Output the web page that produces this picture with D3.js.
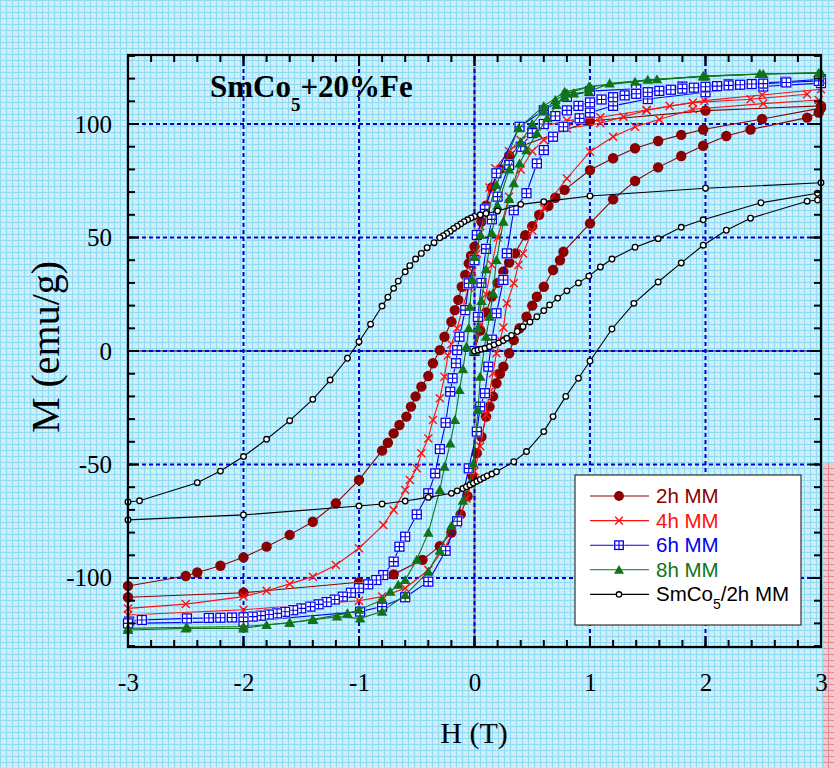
<!DOCTYPE html>
<html><head><meta charset="utf-8">
<script src="https://cdn.jsdelivr.net/npm/d3@7"></script>
<style>html,body{margin:0;padding:0;background:#fff}svg{display:block}</style>
</head><body>
<script>
// ---------- data ----------
const xTickValues = [-3,-2,-1,0,1,2,3];
const yTickValues = [-100,-50,0,50,100];
const legendLabels = ["2h MM","4h MM","6h MM","8h MM","SmCo5/2h MM"];

// SmCo5/2h MM (black)
const blkDesc = [[3,74.1],[2,71.7],[1,68.3],[0.6,65.8],[0.4,64.6],[0.2,61.7],[0.1,60.6],[0.05,60],[0,59.3],[-0.03,58.6],[-0.06,57.8],[-0.09,57],[-0.12,56],[-0.15,55],[-0.18,54],[-0.21,52.8],[-0.24,51.8],[-0.27,50.8],[-0.3,49.9],[-0.35,47.7],[-0.41,45.5],[-0.46,43],[-0.51,40.5],[-0.56,37.6],[-0.6,34.9],[-0.66,30.8],[-0.7,27.6],[-0.75,23.7],[-0.8,19.8],[-0.9,11.8],[-1.0,4.1],[-1.1,-3.2],[-1.25,-12.8],[-1.4,-21.3],[-1.6,-30.7],[-1.8,-38.9],[-2.0,-46.5],[-2.2,-52.9],[-2.4,-58],[-2.9,-66],[-3,-66.5]];
const blkAsc = [[-3,-74.4],[-2,-72.2],[-1,-68.3],[-0.8,-67.4],[-0.6,-66.1],[-0.4,-64.5],[-0.2,-62.7],[-0.15,-61.6],[-0.1,-60.6],[-0.07,-59.8],[-0.04,-59],[-0.01,-58.2],[0.02,-57.4],[0.05,-56.6],[0.08,-55.8],[0.11,-55],[0.15,-54.2],[0.19,-53.2],[0.34,-48.8],[0.45,-44.3],[0.6,-35.5],[0.68,-28.9],[0.79,-20],[0.9,-12],[1.0,-4.4],[1.19,9.7],[1.38,21],[1.59,30.4],[1.79,38.8],[1.98,46.6],[2.18,53.2],[2.39,58.5],[2.88,66],[2.97,66.5]];
const blkVirgin = [[0,0],[0.03,0.4],[0.06,0.8],[0.09,1.2],[0.13,1.9],[0.17,2.7],[0.21,3.6],[0.25,4.6],[0.28,5.6],[0.32,6.9],[0.37,8.6],[0.42,10.7],[0.48,12.8],[0.54,15.1],[0.6,17.8],[0.65,20.3],[0.72,23.3],[0.8,26.5],[0.9,30],[0.99,33],[1.09,37],[1.19,40.5],[1.39,45.7],[1.59,49.5],[1.79,54.5],[1.98,57.8],[2.48,65.3],[2.97,69.5]];

// 2h MM (dark red)
const h2Desc = [[3,108],[2,105.9],[1,101.3],[0.39,90],[0.3,86],[0.22,80],[0.15,72],[0.1,64],[0.06,57],[0.03,51],[0,46],[-0.03,42],[-0.05,38.6],[-0.08,33.5],[-0.11,28.3],[-0.14,22.5],[-0.17,18],[-0.2,12.9],[-0.26,6.3],[-0.3,0.4],[-0.36,-5.4],[-0.4,-11],[-0.46,-15.7],[-0.51,-20],[-0.55,-24.5],[-0.59,-28.9],[-0.65,-32.6],[-0.7,-36.3],[-0.75,-40.4],[-0.8,-43.9],[-1.0,-56.8],[-1.2,-67.1],[-1.4,-75.2],[-1.6,-81],[-1.8,-86.2],[-2,-90.9],[-2.2,-94.6],[-2.4,-97.6],[-2.5,-99.1],[-3,-103.5]];
const h2Asc = [[-3,-108.5],[-2,-106.5],[-1,-101.9],[-0.7,-98.4],[-0.45,-92],[-0.3,-86],[-0.2,-80],[-0.12,-72],[-0.06,-64],[-0.02,-55],[0.02,-45],[0.06,-37.8],[0.1,-28.9],[0.13,-24.5],[0.16,-20],[0.19,-14.2],[0.22,-10],[0.25,-6.9],[0.3,-1],[0.34,4.8],[0.39,10],[0.45,15.1],[0.5,20],[0.54,23.9],[0.6,28.3],[0.68,35.7],[0.74,40],[0.77,43.7],[1,56.2],[1.2,66.8],[1.39,74.9],[1.59,80.9],[1.79,85.9],[1.98,90.4],[2.18,94.7],[2.39,97.6],[2.88,102.8],[2.98,105]];
const h2Virgin = [[0,0],[0.05,9],[0.1,17],[0.15,24],[0.2,30],[0.25,35],[0.3,39],[0.35,43],[0.44,51],[0.5,55],[0.56,60],[0.64,64],[0.7,67.5],[0.78,71],[1,79.7],[1.2,84.9],[1.39,89.3],[1.59,92.5],[1.79,95.2],[1.98,97.6],[2.49,102.2],[3,107]];

// 4h MM (red)
const h4Desc = [[3,115.3],[2.49,112.8],[1.99,110.3],[1.49,106.2],[1.09,103],[0.8,101.5],[0.6,99],[0.4,93],[0.3,88],[0.18,80.5],[0.13,72],[0.09,62.4],[0.05,52],[0.02,43],[-0.02,35],[-0.05,28],[-0.1,19.5],[-0.15,10],[-0.2,3],[-0.23,-2],[-0.26,-11.3],[-0.3,-20.8],[-0.36,-30.4],[-0.4,-38.5],[-0.46,-45],[-0.5,-51.7],[-0.56,-56.8],[-0.6,-61.2],[-0.7,-70],[-0.79,-76.7],[-1,-86.9],[-1.2,-94.3],[-1.4,-99.4],[-1.6,-102.6],[-1.8,-105.6],[-2,-108.2],[-2.5,-111.5],[-3,-113.4]];
const h4Asc = [[-3,-116.3],[-2,-114],[-1,-110],[-0.8,-108.2],[-0.6,-104.5],[-0.4,-96.5],[-0.25,-86],[-0.15,-76],[-0.07,-65],[0,-53],[0.05,-42],[0.1,-28],[0.13,-18],[0.16,-9.8],[0.19,-1],[0.22,4.8],[0.25,10.4],[0.28,21],[0.34,29.8],[0.38,37.9],[0.42,43],[0.5,53],[0.6,63],[0.8,76],[1,87.8],[1.2,94.4],[1.39,98.8],[1.6,102],[1.89,106.5],[2.5,109],[2.98,110.6]];
const h4Virgin = [[0,0],[0.05,12],[0.1,25],[0.15,38],[0.2,50],[0.3,68],[0.4,80],[0.5,88],[0.6,93],[0.8,98],[1.09,100.3],[1.29,103.2],[1.49,106],[1.69,107.9],[1.89,109.4],[2.39,110.9],[2.88,113.1]];

// 6h MM (blue)
const h6Desc = [[3,119.7],[2.69,118.6],[2.2,117.5],[1.8,116.5],[1.4,115.5],[1,114.5],[0.8,112],[0.6,106],[0.39,98.8],[0.19,78.3],[0.09,62.4],[0.02,51.1],[0,40],[-0.05,29.8],[-0.08,18],[-0.13,6.3],[-0.15,0.4],[-0.16,-5.4],[-0.19,-12],[-0.21,-17.9],[-0.25,-31.6],[-0.3,-43.2],[-0.34,-53.9],[-0.4,-62.7],[-0.5,-72],[-0.6,-81.8],[-0.65,-86.2],[-0.7,-92.8],[-0.79,-98.7],[-0.85,-100.9],[-0.92,-102.8],[-1,-104.5],[-1.07,-106.5],[-1.14,-108.2],[-1.21,-109.5],[-1.28,-110.6],[-1.35,-111.6],[-1.42,-112.6],[-1.5,-113.4],[-1.57,-114.2],[-1.64,-114.9],[-1.71,-115.6],[-1.78,-116.1],[-1.85,-116.6],[-1.92,-117],[-2,-117.3],[-2.1,-117.4],[-2.2,-117.5],[-2.3,-117.6],[-2.49,-117.8],[-2.88,-118.5],[-2.99,-119.2]];
const h6Asc = [[-3,-120],[-2,-119.2],[-0.99,-114.8],[-0.8,-112.6],[-0.6,-108.5],[-0.4,-101.6],[-0.25,-88],[-0.15,-75],[-0.05,-51.7],[0.02,-35.5],[0.05,-24.5],[0.09,-18.6],[0.12,-6.9],[0.15,5],[0.19,16.6],[0.25,31.3],[0.28,43],[0.34,62],[0.45,69.5],[0.54,82.6],[0.6,88.5],[0.68,94.4],[0.77,98.8],[0.91,102.5],[1,105],[1.2,108],[1.5,111],[2,114],[2.5,116.5],[3,118]];
const h6Virgin = [[0,0],[0.03,15],[0.06,30],[0.1,45],[0.15,58],[0.2,68],[0.3,82],[0.4,90],[0.5,96],[0.6,100],[0.7,103.5],[0.8,106],[0.9,108],[1,109.5],[1.1,110.8],[1.2,111.8],[1.3,112.6],[1.4,113.3],[1.5,114],[1.6,114.6],[1.7,115.1],[1.8,115.6],[1.9,116],[2,116.4],[2.1,116.7],[2.2,117],[2.3,117.3],[2.4,117.6],[2.5,117.8],[2.7,118.3],[2.98,119]];

// 8h MM (green)
const h8Desc = [[3,122.6],[2.47,122],[1.98,121.1],[1.39,118.6],[0.99,116.4],[0.78,114.2],[0.6,107.9],[0.38,98.1],[0.19,73.1],[0.05,51.1],[0,41.5],[-0.02,31.3],[-0.04,19.5],[-0.05,10],[-0.07,1.9],[-0.1,-8],[-0.13,-17.2],[-0.17,-30.4],[-0.21,-40.7],[-0.26,-51],[-0.3,-61.2],[-0.4,-80],[-0.5,-92],[-0.6,-100.9],[-0.66,-103],[-0.73,-106],[-0.8,-109.7],[-1,-114],[-1.1,-115.6],[-1.4,-118.2],[-1.6,-119.7],[-2,-121.4],[-2.49,-121.7],[-3,-122.2]];
const h8Asc = [[-3,-122.9],[-2.5,-122.2],[-2,-122.2],[-1.8,-120.7],[-1.6,-119.7],[-1.4,-118.5],[-1.19,-117],[-0.99,-117.8],[-0.8,-114.8],[-0.6,-107.5],[-0.4,-97.2],[-0.3,-88],[-0.2,-77],[-0.1,-66],[-0.04,-58.3],[-0.01,-49.5],[0.03,-26],[0.05,-11.3],[0.1,6.3],[0.13,15.1],[0.16,25.4],[0.19,40.1],[0.25,57],[0.3,67],[0.34,73.9],[0.39,82.6],[0.45,88.5],[0.54,95.9],[0.63,102.5],[0.71,108.4],[0.78,112],[0.86,113.5],[0.99,114.2],[1.17,117.9],[1.58,119.7],[1.98,121],[2.47,122],[2.98,122.6]];
const h8Virgin = [[0,0],[0.03,10],[0.06,22],[0.1,36],[0.15,52],[0.2,64],[0.3,80],[0.4,92],[0.5,100],[0.6,106],[0.7,110.5],[0.8,113.5],[1,116.5],[1.5,119.5],[2,121],[2.5,122],[3,122.4]];

// ---------- layout ----------
const W = 834, H = 768;
const frame = {left:128, right:821, top:55, bottom:647};

const svg = d3.select("body").append("svg").attr("width",W).attr("height",H);
const defs = svg.append("defs");

function gridPattern(id, base, line, dot, size){
  const p = defs.append("pattern").attr("id",id).attr("patternUnits","userSpaceOnUse")
    .attr("width",size).attr("height",size);
  p.append("rect").attr("width",size).attr("height",size).attr("fill",base);
  p.append("rect").attr("x",0).attr("y",0).attr("width",size).attr("height",1).attr("fill",line);
  p.append("rect").attr("x",0).attr("y",0).attr("width",1).attr("height",size).attr("fill",line);
  p.append("rect").attr("x",2).attr("y",2).attr("width",1).attr("height",1).attr("fill",dot);
  p.append("rect").attr("x",4).attr("y",4).attr("width",1).attr("height",1).attr("fill",dot);
  return p;
}
gridPattern("bgBlue","#c6eefb","#90daf4","#e8f9fe",6);
gridPattern("bgRed","#f3c3c9","#e58d97","#fae2e5",6);

svg.append("rect").attr("width",W).attr("height",H).attr("fill","url(#bgBlue)");
svg.append("rect").attr("x",823).attr("y",463).attr("width",11).attr("height",H-463).attr("fill","url(#bgRed)");

const x = d3.scaleLinear().domain([-3,3]).range([frame.left, frame.right]);
const y = d3.scaleLinear().domain([-130.4,130.4]).range([frame.bottom, frame.top]);

// grid (major, dashed blue)
const gridX = xTickValues.filter(v => v > -3 && v < 3);
const gridY = yTickValues;
svg.append("line").attr("x1",x(0)).attr("x2",x(0)).attr("y1",frame.top+12).attr("y2",frame.bottom)
  .attr("stroke","#6f7478").attr("stroke-width",2);
svg.append("line").attr("x1",frame.left).attr("x2",frame.right).attr("y1",y(0)).attr("y2",y(0))
  .attr("stroke","#6f7478").attr("stroke-width",2);
svg.append("g").selectAll("line").data(gridX).join("line")
  .attr("x1",d=>x(d)).attr("x2",d=>x(d)).attr("y1",frame.top).attr("y2",frame.bottom)
  .attr("stroke","#0000d8").attr("stroke-width",2).attr("stroke-dasharray","4,3");
svg.append("g").selectAll("line").data(gridY).join("line")
  .attr("x1",frame.left).attr("x2",frame.right).attr("y1",d=>y(d)).attr("y2",d=>y(d))
  .attr("stroke","#0000d8").attr("stroke-width",2).attr("stroke-dasharray","4,3");

// ---------- series ----------
const series = [
  {name:"2h", color:"#8b0000", marker:"circle", branches:[h2Desc,h2Asc,h2Virgin]},
  {name:"4h", color:"#ff1010", marker:"cross", branches:[h4Desc,h4Asc,h4Virgin]},
  {name:"6h", color:"#0000ee", marker:"square", branches:[h6Desc,h6Asc,h6Virgin]},
  {name:"8h", color:"#11741a", marker:"triangle", branches:[h8Desc,h8Asc,h8Virgin]},
  {name:"blk", color:"#000000", marker:"ocircle", branches:[blkDesc,blkAsc,blkVirgin]}
];

const line = d3.line().x(d=>x(d[0])).y(d=>y(d[1]));
const plot = svg.append("g");

function drawMarker(g, type, color, cx, cy, scale=1){
  if(type==="circle"){
    g.append("circle").attr("cx",cx).attr("cy",cy).attr("r",5.2*scale).attr("fill",color);
  } else if(type==="cross"){
    const s=4*scale;
    g.append("path").attr("d",`M${cx-s},${cy-s}L${cx+s},${cy+s}M${cx-s},${cy+s}L${cx+s},${cy-s}`)
      .attr("stroke",color).attr("stroke-width",1.4).attr("fill","none");
  } else if(type==="square"){
    const s=4.5*scale;
    g.append("rect").attr("x",cx-s-1).attr("y",cy-s-1).attr("width",2*s+2).attr("height",2*s+2).attr("fill","#ffffff");
    g.append("rect").attr("x",cx-s).attr("y",cy-s).attr("width",2*s).attr("height",2*s)
      .attr("fill","#ffffff").attr("stroke",color).attr("stroke-width",1.3);
    g.append("path").attr("d",`M${cx-s},${cy}L${cx+s},${cy}M${cx},${cy-s}L${cx},${cy+s}`)
      .attr("stroke",color).attr("stroke-width",1.1);
  } else if(type==="triangle"){
    g.append("path").attr("d",d3.symbol(d3.symbolTriangle, 48*scale*scale)()).attr("transform",`translate(${cx},${cy+1})`)
      .attr("fill",color);
  } else if(type==="ocircle"){
    g.append("circle").attr("cx",cx).attr("cy",cy).attr("r",2.8*scale).attr("fill","#ffffff")
      .attr("stroke",color).attr("stroke-width",1.3);
  }
}

series.forEach(s=>{
  const g = plot.append("g");
  s.branches.forEach(b=>{
    g.append("path").attr("d",line(b)).attr("fill","none").attr("stroke",s.color).attr("stroke-width",1.1);
  });
  s.branches.forEach(b=>{
    b.forEach(p=>drawMarker(g, s.marker, s.color, x(p[0]), y(p[1])));
  });
});

// ---------- frame & axes ----------
const xMinor = d3.range(-3,3.001,0.2).map(v=>+v.toFixed(1));
const yMinor = d3.range(-130,130.1,10);
const axG = svg.append("g").attr("stroke","#000").attr("stroke-width",2);
function ticks(vals, scale, orient, len){
  vals.forEach(v=>{
    const p = scale(v);
    if(orient==="bottom") axG.append("line").attr("x1",p).attr("x2",p).attr("y1",frame.bottom).attr("y2",frame.bottom-len);
    if(orient==="top") axG.append("line").attr("x1",p).attr("x2",p).attr("y1",frame.top).attr("y2",frame.top+len);
    if(orient==="left") axG.append("line").attr("y1",p).attr("y2",p).attr("x1",frame.left).attr("x2",frame.left+len);
    if(orient==="right") axG.append("line").attr("y1",p).attr("y2",p).attr("x1",frame.right).attr("x2",frame.right-len);
  });
}
ticks(xMinor,x,"bottom",7); ticks(xMinor,x,"top",7);
ticks(xTickValues,x,"bottom",11); ticks(xTickValues,x,"top",11);
ticks(yMinor,y,"left",7); ticks(yMinor,y,"right",7);
ticks(yTickValues,y,"left",11); ticks(yTickValues,y,"right",11);
svg.append("rect").attr("x",frame.left).attr("y",frame.top).attr("width",frame.right-frame.left)
  .attr("height",frame.bottom-frame.top).attr("fill","none").attr("stroke","#000").attr("stroke-width",2.2);

// tick labels via d3 axes (lines hidden)
const serif = "'Liberation Serif','Times New Roman',serif";
const xAxis = svg.append("g").attr("transform",`translate(0,${frame.bottom})`)
  .call(d3.axisBottom(x).tickValues(xTickValues).tickSize(0).tickPadding(26).tickFormat(d3.format("d")));
const yAxis = svg.append("g").attr("transform",`translate(${frame.left},0)`)
  .call(d3.axisLeft(y).tickValues(yTickValues).tickSize(0).tickPadding(16).tickFormat(d3.format("d")));
[xAxis,yAxis].forEach(a=>{
  a.select(".domain").remove();
  a.selectAll("text").attr("font-family",serif).attr("font-size",25).attr("fill","#000");
});
xAxis.selectAll("text").text(d=> d<0 ? "-"+Math.abs(d) : d);
yAxis.selectAll("text").text(d=> d<0 ? "-"+Math.abs(d) : d);

// axis titles
svg.append("text").attr("x",474).attr("y",743).attr("text-anchor","middle")
  .attr("font-family",serif).attr("font-size",30).text("H (T)");
svg.append("text").attr("transform","translate(59,347) rotate(-90)").attr("text-anchor","middle")
  .attr("font-family",serif).attr("font-size",40).text("M (emu/g)");

// title
const t = svg.append("text").attr("x",210).attr("y",97).attr("font-family",serif)
  .attr("font-weight","bold").attr("font-size",31).attr("fill","#000");
t.append("tspan").text("SmCo");
t.append("tspan").attr("font-size",19).attr("dy",14).text("5");
t.append("tspan").attr("dy",-14).text("+20%Fe");

// ---------- legend ----------
const lg = svg.append("g");
lg.append("rect").attr("x",575).attr("y",475).attr("width",226).attr("height",150)
  .attr("fill","#fff").attr("stroke","#333").attr("stroke-width",1.2);
const sans = "'Liberation Sans',Arial,sans-serif";
series.forEach((s,i)=>{
  const yy = 496 + i*24.6;
  lg.append("line").attr("x1",590).attr("x2",649).attr("y1",yy).attr("y2",yy).attr("stroke",s.color).attr("stroke-width",1.1);
  drawMarker(lg, s.marker, s.color, 619, yy, 0.95);
  const tx = lg.append("text").attr("x",656).attr("y",yy+7).attr("font-family",sans).attr("font-size",20.5).attr("fill",s.color);
  const lab = legendLabels[i];
  if(lab.startsWith("SmCo5")){
    tx.append("tspan").text("SmCo");
    tx.append("tspan").attr("font-size",14).attr("dy",8).text("5");
    tx.append("tspan").attr("dy",-8).text(lab.slice(5));
  } else tx.text(lab);
});
</script>
</body></html>
